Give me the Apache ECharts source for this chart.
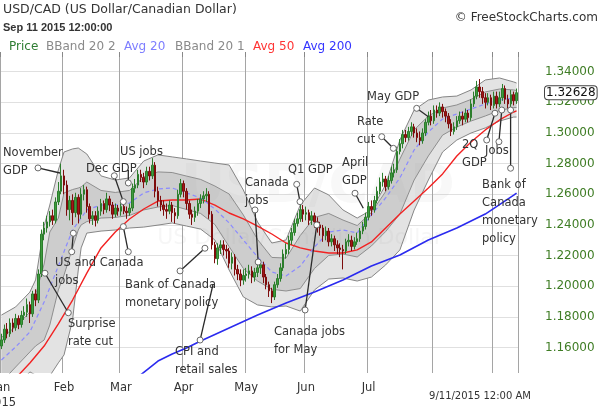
<!DOCTYPE html>
<html><head><meta charset="utf-8">
<script src="https://cdn.jsdelivr.net/npm/echarts@6/dist/echarts.min.js"></script>
<style>html,body{margin:0;padding:0;background:#fff}#c{width:600px;height:409px}</style>
</head><body><div id="c"></div>
<script>
// ---- categories: trading days 2015-01-01 .. 2015-09-11 ----
const firstDay = Date.UTC(2015, 0, 1), lastDay = Date.UTC(2015, 8, 11);
const catDates = [];
for (let t = firstDay; t <= lastDay; t += 86400000) {
  const d = new Date(t), w = d.getUTCDay();
  if (w !== 0 && w !== 6) catDates.push(d.toISOString().slice(0, 10));
}
const monthNames = ['Jan', 'Feb', 'Mar', 'Apr', 'May', 'Jun', 'Jul'];
const yearLabel = '2015';
const yTickStep = 0.02;
const yMin = 1.14339, yMax = 1.34959;
const lastPrice = 1.32628;

// ---- daily candles [open, close, low, high] ----
const jan = [
[1.1610,1.1650,1.1590,1.1690],[1.1650,1.1720,1.1630,1.1750],[1.1720,1.1690,1.1660,1.1760],[1.1690,1.1760,1.1670,1.1790],
[1.1760,1.1730,1.1700,1.1790],[1.1730,1.1790,1.1710,1.1820],[1.1790,1.1750,1.1720,1.1810],[1.1750,1.1810,1.1730,1.1840],
[1.1810,1.1830,1.1780,1.1870],[1.1830,1.1880,1.1800,1.1920],[1.1880,1.1820,1.1760,1.1900],[1.1820,1.1950,1.1800,1.1970],
[1.1950,1.1910,1.1870,1.1980],[1.1910,1.2080,1.1890,1.2110],[1.2080,1.2340,1.2060,1.2370],[1.2340,1.2380,1.2300,1.2420],
[1.2380,1.2420,1.2350,1.2460],[1.2420,1.2460,1.2390,1.2490],[1.2460,1.2430,1.2400,1.2500],[1.2430,1.2550,1.2410,1.2580],
[1.2550,1.2620,1.2530,1.2680],[1.2620,1.2720,1.2600,1.2800]];
const feb = [
[1.2720,1.2660,1.2600,1.2760],[1.2660,1.2500,1.2460,1.2690],[1.2500,1.2560,1.2430,1.2590],[1.2560,1.2480,1.2400,1.2600],
[1.2480,1.2580,1.2450,1.2610],[1.2580,1.2470,1.2410,1.2600],[1.2470,1.2600,1.2440,1.2640],[1.2600,1.2630,1.2560,1.2660],
[1.2630,1.2520,1.2480,1.2650],[1.2520,1.2440,1.2410,1.2540],[1.2440,1.2460,1.2400,1.2490],[1.2460,1.2430,1.2390,1.2490],
[1.2430,1.2490,1.2410,1.2520],[1.2490,1.2540,1.2460,1.2570],[1.2540,1.2500,1.2470,1.2560],[1.2500,1.2570,1.2480,1.2610],
[1.2570,1.2530,1.2490,1.2590],[1.2530,1.2470,1.2440,1.2550],[1.2470,1.2510,1.2450,1.2540],[1.2510,1.2490,1.2460,1.2530]];
const mar = [
[1.2490,1.2520,1.2460,1.2550],[1.2520,1.2490,1.2470,1.2560],[1.2490,1.2480,1.2440,1.2520],[1.2480,1.2510,1.2460,1.2540],
[1.2510,1.2640,1.2490,1.2670],[1.2640,1.2660,1.2610,1.2700],[1.2660,1.2730,1.2640,1.2760],[1.2730,1.2710,1.2680,1.2760],
[1.2710,1.2680,1.2640,1.2740],[1.2680,1.2750,1.2660,1.2780],[1.2750,1.2720,1.2690,1.2780],[1.2720,1.2790,1.2700,1.2836],
[1.2790,1.2620,1.2580,1.2810],[1.2620,1.2560,1.2520,1.2650],[1.2560,1.2530,1.2490,1.2590],[1.2530,1.2500,1.2460,1.2560],
[1.2500,1.2490,1.2440,1.2540],[1.2490,1.2530,1.2470,1.2560],[1.2530,1.2480,1.2420,1.2550],[1.2480,1.2460,1.2410,1.2510],
[1.2460,1.2600,1.2440,1.2630],[1.2600,1.2670,1.2580,1.2700]];
const apr = [
[1.2670,1.2620,1.2580,1.2690],[1.2620,1.2540,1.2500,1.2640],[1.2540,1.2470,1.2440,1.2560],[1.2470,1.2450,1.2400,1.2500],
[1.2450,1.2490,1.2420,1.2520],[1.2490,1.2540,1.2460,1.2570],[1.2540,1.2570,1.2510,1.2600],[1.2570,1.2590,1.2540,1.2620],
[1.2590,1.2600,1.2550,1.2640],[1.2600,1.2470,1.2440,1.2620],[1.2470,1.2270,1.2240,1.2490],[1.2270,1.2180,1.2150,1.2290],
[1.2180,1.2250,1.2140,1.2280],[1.2250,1.2270,1.2210,1.2300],[1.2270,1.2240,1.2200,1.2300],[1.2240,1.2230,1.2180,1.2270],
[1.2230,1.2150,1.2120,1.2250],[1.2150,1.2190,1.2110,1.2220],[1.2190,1.2110,1.2070,1.2210],[1.2110,1.2080,1.2040,1.2140],
[1.2080,1.2040,1.2000,1.2110],[1.2040,1.2070,1.2010,1.2110]];
const may = [
[1.2070,1.2080,1.2030,1.2120],[1.2080,1.2100,1.2050,1.2140],[1.2100,1.2060,1.2020,1.2130],[1.2060,1.2090,1.2030,1.2120],
[1.2090,1.2120,1.2060,1.2150],[1.2120,1.2140,1.2080,1.2170],[1.2140,1.2060,1.2020,1.2160],[1.2060,1.2010,1.1980,1.2080],
[1.2010,1.1970,1.1930,1.2030],[1.1970,1.1930,1.1890,1.1990],[1.1930,1.2010,1.1910,1.2030],[1.2010,1.2050,1.1990,1.2080],
[1.2050,1.2120,1.2030,1.2150],[1.2120,1.2210,1.2100,1.2240],[1.2210,1.2240,1.2180,1.2280],[1.2240,1.2300,1.2210,1.2330],
[1.2300,1.2350,1.2270,1.2380],[1.2350,1.2410,1.2330,1.2440],[1.2410,1.2440,1.2390,1.2480],[1.2440,1.2500,1.2420,1.2560],
[1.2500,1.2470,1.2420,1.2530]];
const jun = [
[1.2470,1.2480,1.2430,1.2520],[1.2480,1.2430,1.2400,1.2500],[1.2430,1.2460,1.2400,1.2490],[1.2460,1.2420,1.2380,1.2480],
[1.2420,1.2400,1.2350,1.2450],[1.2400,1.2380,1.2330,1.2420],[1.2380,1.2330,1.2290,1.2400],[1.2330,1.2360,1.2300,1.2390],
[1.2360,1.2290,1.2260,1.2380],[1.2290,1.2310,1.2260,1.2340],[1.2310,1.2270,1.2230,1.2330],[1.2270,1.2250,1.2210,1.2300],
[1.2250,1.2240,1.2190,1.2280],[1.2240,1.2230,1.2110,1.2270],[1.2230,1.2290,1.2210,1.2310],[1.2290,1.2300,1.2260,1.2340],
[1.2300,1.2260,1.2230,1.2330],[1.2260,1.2290,1.2240,1.2320],[1.2290,1.2310,1.2270,1.2350],[1.2310,1.2360,1.2290,1.2380],
[1.2360,1.2390,1.2340,1.2420],[1.2390,1.2450,1.2370,1.2480]];
const jul = [
[1.2450,1.2520,1.2430,1.2550],[1.2520,1.2500,1.2460,1.2560],[1.2500,1.2560,1.2480,1.2590],[1.2560,1.2620,1.2540,1.2650],
[1.2620,1.2680,1.2600,1.2710],[1.2680,1.2700,1.2650,1.2740],[1.2700,1.2650,1.2620,1.2720],[1.2650,1.2690,1.2630,1.2720],
[1.2690,1.2740,1.2670,1.2780],[1.2740,1.2760,1.2710,1.2800],[1.2760,1.2880,1.2740,1.2910],[1.2880,1.2930,1.2860,1.2960],
[1.2930,1.2990,1.2900,1.3020],[1.2990,1.2970,1.2940,1.3020],[1.2970,1.3010,1.2950,1.3040],[1.3010,1.3040,1.2980,1.3070],
[1.3040,1.3000,1.2970,1.3060],[1.3000,1.2970,1.2940,1.3030],[1.2970,1.2950,1.2920,1.3010],[1.2950,1.3000,1.2930,1.3030],
[1.3000,1.3070,1.2980,1.3090],[1.3070,1.3110,1.3050,1.3140],[1.3110,1.3080,1.3050,1.3150]];
const aug = [
[1.3080,1.3150,1.3060,1.3180],[1.3150,1.3130,1.3100,1.3180],[1.3130,1.3170,1.3110,1.3200],[1.3170,1.3140,1.3100,1.3190],
[1.3140,1.3110,1.3070,1.3160],[1.3110,1.3060,1.3030,1.3130],[1.3060,1.3010,1.2980,1.3090],[1.3010,1.3040,1.2990,1.3070],
[1.3040,1.3080,1.3020,1.3110],[1.3080,1.3110,1.3060,1.3140],[1.3110,1.3090,1.3050,1.3140],[1.3090,1.3130,1.3070,1.3160],
[1.3130,1.3100,1.3070,1.3150],[1.3100,1.3190,1.3080,1.3220],[1.3190,1.3240,1.3170,1.3270],[1.3240,1.3300,1.3220,1.3340],
[1.3300,1.3270,1.3230,1.3352],[1.3270,1.3230,1.3190,1.3300],[1.3230,1.3200,1.3160,1.3260],[1.3200,1.3230,1.3180,1.3260],
[1.3230,1.3180,1.3150,1.3250]];
const sep = [
[1.3180,1.3240,1.3160,1.3270],[1.3240,1.3190,1.3160,1.3270],[1.3190,1.3230,1.3170,1.3270],[1.3230,1.3290,1.3210,1.3320],
[1.3290,1.3220,1.3190,1.3310],[1.3220,1.3190,1.3160,1.3250],[1.3190,1.3250,1.3170,1.3280],[1.3250,1.3210,1.3180,1.3270],
[1.3210,1.32628,1.3190,1.3290]];

// ---- Bollinger bands (read at sample day indices) ----
const bandIdx = [0,5,10,12,15,17,20,22,25,27,28,30,35,40,45,50,55,60,65,70,75,80,85,90,95,100,105,110,115,120,125,130,135,140,145,150,155,160,165,170,175,180,181];
const bb2Upper = [1.1812,1.1865,1.1962,1.2041,1.2393,1.2530,1.2759,1.2876,1.2896,1.2902,1.2889,1.2863,1.2720,1.2693,1.2707,1.2817,1.2857,1.2844,1.2831,1.2817,1.2804,1.2791,1.2628,1.2419,1.2282,1.2302,1.2530,1.2641,1.2596,1.2498,1.2445,1.2498,1.2661,1.2954,1.3150,1.3215,1.3235,1.3241,1.3281,1.3346,1.3359,1.3333,1.3326];
const bb2Lower = [1.1225,1.1343,1.1441,1.1421,1.1402,1.1415,1.1500,1.1552,1.1780,1.2106,1.2250,1.2347,1.2360,1.2367,1.2380,1.2386,1.2399,1.2413,1.2393,1.2373,1.2302,1.2106,1.1930,1.1878,1.1865,1.1871,1.1838,1.1976,1.2047,1.2054,1.2034,1.2060,1.2139,1.2237,1.2497,1.2693,1.2876,1.2954,1.3000,1.3033,1.3078,1.3104,1.3104];
const bb1Upper = [1.1666,1.1734,1.1832,1.1943,1.2145,1.2354,1.2445,1.2609,1.2631,1.2641,1.2648,1.2680,1.2625,1.2612,1.2625,1.2713,1.2746,1.2742,1.2719,1.2697,1.2654,1.2602,1.2465,1.2305,1.2188,1.2184,1.2331,1.2449,1.2475,1.2432,1.2396,1.2481,1.2618,1.2830,1.3020,1.3111,1.3163,1.3183,1.3219,1.3268,1.3287,1.3281,1.3277];
const bb1Lower = [1.1374,1.1473,1.1571,1.1610,1.1649,1.1747,1.1976,1.2073,1.2250,1.2367,1.2400,1.2422,1.2445,1.2449,1.2462,1.2498,1.2517,1.2527,1.2501,1.2475,1.2403,1.2259,1.2116,1.2034,1.1980,1.1969,1.1985,1.2116,1.2201,1.2210,1.2191,1.2263,1.2357,1.2471,1.2693,1.2850,1.2986,1.3039,1.3078,1.3111,1.3147,1.3166,1.3166];

// ---- moving averages ----
const avg20Idx = [0,5,10,15,20,25,30,35,40,45,50,55,60,65,70,75,80,85,90,95,100,105,110,115,120,125,130,135,140,145,150,155,160,165,170,175,180,181];
const avg20 = [1.1519,1.1604,1.1702,1.1897,1.2132,1.2367,1.2498,1.2530,1.2530,1.2543,1.2609,1.2635,1.2641,1.2609,1.2576,1.2504,1.2413,1.2302,1.2191,1.2093,1.2067,1.2132,1.2256,1.2354,1.2367,1.2348,1.2465,1.2576,1.2707,1.2889,1.3007,1.3091,1.3124,1.3157,1.3189,1.3215,1.3228,1.3228];
const avg50Idx = [5,10,15,20,25,30,35,40,45,50,55,60,65,70,75,80,85,90,95,100,105,110,115,120,125,130,135,140,145,150,155,160,165,170,175,180,181];
const avg50 = [1.1400,1.1499,1.1610,1.1754,1.1910,1.2086,1.2250,1.2354,1.2439,1.2504,1.2556,1.2563,1.2563,1.2569,1.2530,1.2478,1.2439,1.2393,1.2341,1.2282,1.2250,1.2230,1.2217,1.2217,1.2237,1.2289,1.2380,1.2471,1.2556,1.2641,1.2733,1.2850,1.2941,1.3020,1.3085,1.3137,1.3144];
const avg200Idx = [48,55,60,65,70,80,90,100,110,120,130,140,150,160,170,180,181];
const avg200 = [1.1408,1.1512,1.1558,1.1597,1.1643,1.1728,1.1812,1.1891,1.1962,1.2041,1.2132,1.2204,1.2302,1.2380,1.2471,1.2595,1.2608];

// ---- annotations (anchored in day-index / price space) ----
const notes = [
  {t:'November\nGDP', at:[0.56,1.2926], seg:[[12.85,1.2772],[20.58,1.2739]], dots:[0]},
  {t:'Dec GDP', at:[29.72,1.2822], seg:[[39.66,1.2721],[42.83,1.2552]], dots:[0,1]},
  {t:'US jobs', at:[41.66,1.2933], seg:[[44.58,1.2674],[44.58,1.2759]], dots:[0]},
  {t:'US and Canada\njobs', at:[18.83,1.2208], seg:[[24.7,1.2225],[25.26,1.2346]], dots:[0,1]},
  {t:'', at:null, seg:[[44.58,1.2225],[42.83,1.2389]], dots:[0,1]},
  {t:'Surprise\nrate cut', at:[23.39,1.1812], seg:[[23.5,1.1827],[15.3,1.2085]], dots:[0,1]},
  {t:'Bank of Canada\nmonetary policy', at:[43.42,1.2065], seg:[[62.75,1.2100],[71.5,1.2248]], dots:[0,1]},
  {t:'CPI and\nretail sales', at:[61.0,1.1628], seg:[[69.8,1.1649],[74.3,1.2008]], dots:[0]},
  {t:'Canada\njobs', at:[85.59,1.2730], seg:[[89.1,1.2498],[90.2,1.2158]], dots:[0,1]},
  {t:'Q1 GDP', at:[100.7,1.2815], seg:[[103.75,1.2665],[104.9,1.2552]], dots:[0,1]},
  {t:'Canada jobs\nfor May', at:[95.78,1.1758], seg:[[106.7,1.1845],[110.8,1.2400]], dots:[0,1]},
  {t:'April\nGDP', at:[119.67,1.2861], seg:[[124.24,1.2607],[127.15,1.2509]], dots:[0]},
  {t:'Rate\ncut', at:[124.94,1.3129], seg:[[133.62,1.2976],[137.7,1.2900]], dots:[0,1]},
  {t:'May GDP', at:[128.45,1.3292], seg:[[145.9,1.3161],[150.0,1.3106]], dots:[0]},
  {t:'2Q\nGDP', at:[161.84,1.2978], seg:[[170.5,1.2954],[173.4,1.3129]], dots:[0,1]},
  {t:'Jobs', at:[169.92,1.2939], seg:[[174.8,1.2943],[175.8,1.3150]], dots:[0,1]},
  {t:'Bank of\nCanada\nmonetary\npolicy', at:[168.87,1.2717], seg:[[178.9,1.2770],[178.9,1.3150]], dots:[0,1]}
];

// ---- build ----
const ohlc = [].concat(jan, feb, mar, apr, may, jun, jul, aug, sep);
const monthStart = {};
catDates.forEach((d, i) => {
  const m = +d.slice(5, 7) - 1;
  if (i === 0 || d.slice(5, 7) !== catDates[i - 1].slice(5, 7)) monthStart[i] = m;
});
const isMonthStart = (i) => monthStart[i] !== undefined;
const monthLabel = (i) => {
  const m = monthStart[i];
  if (m === undefined || m >= monthNames.length) return '';
  return monthNames[m];
};
const pairs = (idx, vals) => idx.map((k, j) => [k, vals[j]]);

const FONT = '"DejaVu Sans", Verdana, sans-serif';
const gridLineColors = ['rgba(0,0,0,0)'];
for (let k = 0; k < 10; k++) gridLineColors.push('#e0e0e0');
gridLineColors.push('rgba(0,0,0,0)');

// band fill drawn through the axes' own scales (api.coord)
function bandSeries(lower, upper, fill) {
  return {
    type: 'custom', xAxisIndex: 2, yAxisIndex: 0, z: 1, silent: true, animation: false,
    data: bandIdx.map((k, j) => [k, lower[j], upper[j]]),
    encode: {x: 0, y: [1, 2]},
    renderItem: function (params, api) {
      if (params.dataIndex !== 0) return null;
      const pts = [];
      for (let j = 0; j < bandIdx.length; j++) pts.push(api.coord([bandIdx[j], upper[j]]));
      for (let j = bandIdx.length - 1; j >= 0; j--) pts.push(api.coord([bandIdx[j], lower[j]]));
      const cs = params.coordSys;
      return {type: 'group', clipPath: {type: 'rect', shape: {x: cs.x, y: cs.y, width: cs.width, height: cs.height}},
        children: [{type: 'polygon', shape: {points: pts}, style: {fill: fill, stroke: 'none'}}]};
    }
  };
}

const chart = echarts.init(document.getElementById('c'), null, {renderer: 'canvas'});
const lineBase = {type: 'line', xAxisIndex: 2, yAxisIndex: 0, symbol: 'none', showSymbol: false, silent: true, animation: false};
chart.setOption({
  animation: false,
  backgroundColor: '#fff',
  grid: {left: 0, right: 82, top: 57, bottom: 36, containLabel: false, outerBoundsMode: 'none'},
  xAxis: [
    {type: 'category', data: catDates, boundaryGap: true, position: 'bottom',
     axisLine: {show: false}, axisTick: {show: false},
     axisLabel: {interval: (i) => monthLabel(i) !== '', formatter: (v, i) => monthLabel(i), hideOverlap: false,
                 color: '#333', fontFamily: FONT, fontSize: 11.5, margin: 9},
     splitLine: {show: true, interval: (i) => isMonthStart(i), lineStyle: {color: '#a5a5a5', width: 1}}},
    {type: 'category', data: catDates, boundaryGap: true, position: 'top',
     axisLine: {show: false}, axisLabel: {show: false}, splitLine: {show: false},
     axisTick: {show: true, interval: (i) => isMonthStart(i), length: 5, lineStyle: {color: '#888'}}},
    {type: 'value', min: -0.5, max: catDates.length - 0.5, show: false}
  ],
  yAxis: [{
    type: 'value', position: 'right', min: yMin, max: yMax, splitNumber: 10,
    minInterval: yTickStep, maxInterval: yTickStep,
    axisLine: {show: false}, axisTick: {show: false},
    axisLabel: {showMinLabel: false, showMaxLabel: false, formatter: (v) => v.toFixed(5),
                color: '#3f7d25', fontFamily: FONT, fontSize: 12, margin: 27},
    splitLine: {show: true, lineStyle: {color: gridLineColors, width: 1}}
  }],
  series: [
    bandSeries(bb2Lower, bb2Upper, '#e3e3e3'),
    bandSeries(bb1Lower, bb1Upper, '#cdcdcd'),
    Object.assign({}, lineBase, {name: 'bb2lo', z: 1.5, data: pairs(bandIdx, bb2Lower), lineStyle: {color: '#858585', width: 1}}),
    Object.assign({}, lineBase, {name: 'bb2hi', z: 1.5, data: pairs(bandIdx, bb2Upper), lineStyle: {color: '#858585', width: 1}}),
    Object.assign({}, lineBase, {name: 'bb1lo', z: 1.5, data: pairs(bandIdx, bb1Lower), lineStyle: {color: '#8e8e8e', width: 1}}),
    Object.assign({}, lineBase, {name: 'bb1hi', z: 1.5, data: pairs(bandIdx, bb1Upper), lineStyle: {color: '#8e8e8e', width: 1}}),
    Object.assign({}, lineBase, {name: 'Avg 200', z: 2, data: pairs(avg200Idx, avg200), lineStyle: {color: '#2b2bef', width: 1.6}}),
    Object.assign({}, lineBase, {name: 'Avg 50', z: 2, data: pairs(avg50Idx, avg50), lineStyle: {color: '#f22222', width: 1.4}}),
    Object.assign({}, lineBase, {name: 'Avg 20', z: 2, data: pairs(avg20Idx, avg20), lineStyle: {color: '#8a8aff', width: 1.2, type: [4, 3]}}),
    {type: 'candlestick', name: 'Price', xAxisIndex: 0, yAxisIndex: 0, z: 3, data: ohlc, barWidth: 2, silent: true,
     itemStyle: {color: '#3e9c3e', borderColor: '#2c7d2c', color0: '#a01818', borderColor0: '#7d0c0c', borderWidth: 1}}
  ]
});

// ---- texts and annotations ----
const px = (p) => chart.convertToPixel({xAxisIndex: 2, yAxisIndex: 0}, p);
const g = [];
const txt = (text, x, y, o) => g.push(Object.assign({type: 'text', z: 20, silent: true,
  style: Object.assign({text: text, x: x, y: y, font: '12px ' + FONT, fill: '#333', textAlign: 'left', textVerticalAlign: 'middle'}, o || {})}));
// watermark
g.push({type: 'text', z: 1, silent: true, style: {text: 'USD/CAD', x: 318, y: 188, font: 'bold 54px ' + FONT,
  fill: 'rgba(150,150,150,0.07)', textAlign: 'center', textVerticalAlign: 'middle'}});
g.push({type: 'text', z: 1, silent: true, style: {text: 'US Dollar/Canadian Dollar', x: 300, y: 238, font: '22px ' + FONT,
  fill: 'rgba(150,150,150,0.09)', textAlign: 'center', textVerticalAlign: 'middle'}});
// header
txt('USD/CAD (US Dollar/Canadian Dollar)', 3, 10, {font: '12.5px ' + FONT, fill: '#333'});
txt('Sep 11 2015 12:00:00', 3, 28, {font: 'bold 11px "Liberation Sans", Arial, sans-serif', fill: '#333'});
txt('\u00a9 FreeStockCharts.com', 598, 18, {textAlign: 'right', fill: '#333'});
const legendItems = [['Price', 9, '#2e7d32'], ['BBand 20 2', 46, '#8a8a8a'], ['Avg 20', 124, '#7e7eff'],
  ['BBand 20 1', 175, '#8a8a8a'], ['Avg 50', 253, '#ff3434'], ['Avg 200', 303, '#3535ff']];
legendItems.forEach((l) => txt(l[0], l[1], 47, {fill: l[2]}));
txt('9/11/2015 12:00 AM', 480, 396, {font: '10px ' + FONT, textAlign: 'center', fill: '#333'});
// year under the first month label
const y0 = px([0, yMin]);
txt(yearLabel, y0[0], y0[1] + 30, {font: '11.5px ' + FONT, textAlign: 'center', fill: '#333'});
// current price box
const lp = px([0, lastPrice]);
g.push({type: 'text', z: 30, silent: true, style: {text: lastPrice.toFixed(5), x: 545, y: lp[1], font: '12px ' + FONT,
  fill: '#111', backgroundColor: '#fff', borderColor: '#444', borderWidth: 1, borderRadius: 3, padding: [1, 1, 0, 1],
  textAlign: 'left', textVerticalAlign: 'middle'}});
// callouts
notes.forEach((n) => {
  const a = px(n.seg[0]), b = px(n.seg[1]);
  g.push({type: 'line', z: 21, silent: true, shape: {x1: a[0], y1: a[1], x2: b[0], y2: b[1]},
    style: {stroke: '#2a2a2a', lineWidth: 1.3}});
  n.dots.forEach((k) => {
    const c = k === 0 ? a : b;
    g.push({type: 'circle', z: 22, silent: true, shape: {cx: c[0], cy: c[1], r: 3},
      style: {fill: '#fff', stroke: '#6a6a6a', lineWidth: 1}});
  });
  if (n.t) {
    const p = px(n.at);
    txt(n.t, p[0], p[1], {font: '11.5px ' + FONT, fill: '#333', textVerticalAlign: 'top', lineHeight: 18});
  }
});
chart.setOption({graphic: {elements: g}});
</script>
</body></html>
